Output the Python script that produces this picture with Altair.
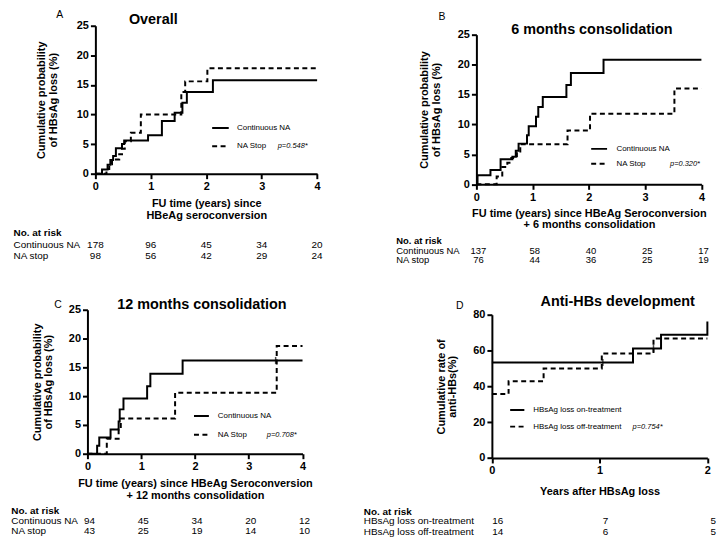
import altair as alt
import pandas as pd

FONT = "Liberation Sans"

# ---------------- data ----------------
# Panel A: Overall
a_cont_t = [0, 0.12, 0.22, 0.27, 0.32, 0.37, 0.48, 0.52, 0.95, 1.20, 1.43, 1.57, 1.65, 2.12, 4.0]
a_cont_v = [0, 0.7, 1.5, 2.3, 3.0, 4.3, 5.0, 5.6, 6.5, 8.9, 10.3, 12.0, 13.8, 15.8, 15.8]
a_stop_t = [0, 0.20, 0.25, 0.30, 0.43, 0.48, 0.53, 0.64, 0.82, 1.55, 1.62, 2.02, 4.0]
a_stop_v = [0, 0.8, 1.6, 2.4, 3.3, 4.2, 5.5, 6.9, 10.0, 13.8, 15.6, 17.8, 17.8]
a_risk_cont = [178, 96, 45, 34, 20]
a_risk_stop = [98, 56, 42, 29, 24]

# Panel B: 6 months consolidation
b_cont_t = [0, 0.02, 0.25, 0.43, 0.64, 0.70, 0.75, 0.90, 0.93, 1.06, 1.10, 1.18, 1.60, 1.68, 2.26, 4.0]
b_cont_v = [0, 1.5, 2.4, 4.2, 4.6, 5.6, 6.8, 8.2, 9.7, 11.3, 12.9, 14.6, 16.6, 18.6, 20.8, 20.8]
b_stop_t = [0, 0.36, 0.46, 0.55, 0.62, 0.72, 0.78, 1.62, 2.02, 3.52, 4.0]
b_stop_v = [0, 1.3, 2.9, 3.6, 4.4, 5.5, 6.7, 9.0, 11.8, 16.0, 16.0]
b_risk_cont = [137, 58, 40, 25, 17]
b_risk_stop = [76, 44, 36, 25, 19]

# Panel C: 12 months consolidation
c_cont_t = [0, 0.18, 0.22, 0.43, 0.58, 0.60, 0.67, 1.11, 1.17, 1.77, 4.0]
c_cont_v = [0, 1.4, 2.8, 4.2, 5.6, 7.7, 9.6, 11.7, 13.9, 16.2, 16.2]
c_stop_t = [0, 0.36, 0.58, 0.62, 1.63, 3.52, 4.0]
c_stop_v = [0, 2.6, 4.2, 6.1, 10.6, 18.7, 18.7]
c_cens_t = [3.5]
c_cens_v = [16.2]
c_risk_cont = [94, 45, 34, 20, 12]
c_risk_stop = [43, 25, 19, 14, 10]

# Panel D: Anti-HBs development
d_on_t = [0, 1.31, 1.57, 2.0]
d_on_v = [53.3, 61.1, 68.8, 76.2]
d_off_t = [0, 0.155, 0.48, 1.02, 1.50, 2.0]
d_off_v = [35.7, 42.9, 50.0, 58.3, 66.7, 66.7]
d_cens_t = [1.03, 1.50]
d_cens_v = [53.3, 61.1]
d_risk_on = [16, 7, 5]
d_risk_off = [14, 6, 5]

years4 = [0, 1, 2, 3, 4]
years2 = [0, 1, 2]


# ---------------- helpers ----------------
def txt(s, x, y, size=10, weight="normal", style="normal", align="left"):
    return alt.Chart(pd.DataFrame({"s": [s]})).mark_text(
        font=FONT, fontSize=size, fontWeight=weight, fontStyle=style,
        align=align, baseline="middle", color="black"
    ).encode(text="s:N", x=alt.value(x), y=alt.value(y))


def sample(x1, x2, y, dash):
    return alt.Chart(pd.DataFrame({"k": [0]})).mark_rule(
        color="black", strokeWidth=2, strokeDash=dash
    ).encode(x=alt.value(x1), x2=alt.value(x2), y=alt.value(y))


def panel(c):
    xs = alt.Scale(domain=c["xdom"], range=c["xrange"], nice=False, zero=False)
    ys = alt.Scale(domain=c["ydom"], range=c["yrange"], nice=False)
    xa = alt.Axis(title=c["xtitle"], values=[float(v) for v in c["xticks"]],
                  labelExpr="format(datum.value, '.0f')",
                  titlePadding=c["xtp"], offset=c.get("xoff", 0),
                  labelOverlap=False, labelBound=False, tickCount=20)
    ya = alt.Axis(title=c["ytitle"], values=c["yticks"], format="d",
                  offset=c.get("yoff", 0), titlePadding=c["ytp"],
                  labelOverlap=False, tickCount=20)
    df = pd.DataFrame({
        "t": c["t1"] + c["t2"],
        "v": c["v1"] + c["v2"],
        "g": [c["n1"]] * len(c["t1"]) + [c["n2"]] * len(c["t2"]),
    })
    layers = [alt.Chart(df).mark_line(
        interpolate="step-after", color="black", strokeWidth=2
    ).encode(
        x=alt.X("t:Q", scale=xs, axis=xa),
        y=alt.Y("v:Q", scale=ys, axis=ya),
        strokeDash=alt.StrokeDash("g:N", scale=alt.Scale(
            domain=[c["n1"], c["n2"]], range=[[1, 0], [5, 3.5]]), legend=None),
    )]
    if c.get("ct"):
        cdf = pd.DataFrame({"t": c["ct"], "v": c["cv"]})
        layers.append(alt.Chart(cdf).mark_tick(
            orient="vertical", color="black", thickness=1.5, size=7
        ).encode(x=alt.X("t:Q", scale=xs, axis=xa),
                 y=alt.Y("v:Q", scale=ys, axis=ya)))
    # letter and title
    layers.append(txt(c["letter"], c["lxy"][0], c["lxy"][1], size=10.5, align="center"))
    layers.append(txt(c["title"], c["txy"][0], c["txy"][1], size=14.5,
                      weight="bold", align="center"))
    # legend
    lg = c["leg"]
    layers.append(sample(lg["x1"], lg["x2"], lg["y1"], [1, 0]))
    layers.append(sample(lg["x1"], lg["x2"], lg["y2"], [5, 3.5]))
    layers.append(txt(c["n1"], lg["tx"], lg["y1"], size=8))
    layers.append(txt(c["n2"], lg["tx"], lg["y2"], size=8))
    layers.append(txt(c["p"], lg["px"], lg["y2"], size=7.5, style="italic"))
    # risk table
    rk = c["risk"]
    fs = rk.get("fs", 10)
    layers.append(txt("No. at risk", rk["x"], rk["y"][0], size=fs, weight="bold"))
    layers.append(txt(rk["l1"], rk["x"], rk["y"][1], size=fs))
    layers.append(txt(rk["l2"], rk["x"], rk["y"][2], size=fs))
    for vals, yy in ((rk["r1"], rk["y"][1]), (rk["r2"], rk["y"][2])):
        rdf = pd.DataFrame({"t": c["xticks"], "n": vals})
        layers.append(alt.Chart(rdf).mark_text(
            font=FONT, fontSize=fs, align="center", baseline="middle",
            color="black", dx=rk.get("dx", 0)
        ).encode(x=alt.X("t:Q", scale=xs, axis=xa), y=alt.value(yy), text="n:Q"))
    return alt.layer(*layers).properties(width=c["w"], height=c["h"])


ytitle_km = ["Cumulative probability", "of HBsAg loss (%)"]

pa = panel(dict(
    t1=a_cont_t, v1=a_cont_v, t2=a_stop_t, v2=a_stop_v,
    n1="Continuous NA", n2="NA Stop", p="p=0.548*",
    xdom=[0, 4], xrange=[8, 231.3], ydom=[0, 25], yrange=[149, 0],
    xticks=years4, yticks=[0, 5, 10, 15, 20, 25],
    xtitle=["FU time (years) since", "HBeAg seroconversion"], xtp=6,
    ytitle=ytitle_km, ytp=18, yoff=-8, w=231.3, h=149,
    letter="A", lxy=(-28, -11), title="Overall", txy=(66.3, -5.3),
    leg=dict(x1=125.6, x2=142.3, y1=103, y2=121.4, tx=150.6, px=191.6),
    risk=dict(x=-74.4, y=[208.7, 220.7, 232.4], l1="Continuous NA", l2="NA stop",
              r1=a_risk_cont, r2=a_risk_stop),
))

pb = panel(dict(
    t1=b_cont_t, v1=b_cont_v, t2=b_stop_t, v2=b_stop_v,
    n1="Continuous NA", n2="NA Stop", p="p=0.320*",
    xdom=[0, 4], xrange=[0, 226.6], ydom=[0, 25], yrange=[159.7, 9],
    xticks=years4, yticks=[0, 5, 10, 15, 20, 25],
    xtitle=["FU time (years) since HBeAg Seroconversion", "+ 6 months consolidation"], xtp=5,
    ytitle=ytitle_km, ytp=16, w=226.6, h=159.7,
    letter="B", lxy=(-34.7, -8.6), title="6 months consolidation", txy=(116.3, 4),
    leg=dict(x1=115.6, x2=131.6, y1=124, y2=139, tx=141, px=195),
    risk=dict(x=-80.7, y=[216.7, 226.5, 236], l1="Continuous NA", l2="NA stop",
              r1=b_risk_cont, r2=b_risk_stop, dx=2, fs=9.5),
))

pc = panel(dict(
    t1=c_cont_t, v1=c_cont_v, t2=c_stop_t, v2=c_stop_v, ct=c_cens_t, cv=c_cens_v,
    n1="Continuous NA", n2="NA Stop", p="p=0.708*",
    xdom=[0, 4], xrange=[0, 216.6], ydom=[0, 25], yrange=[145, 0],
    xticks=years4, yticks=[0, 5, 10, 15, 20, 25],
    xtitle=["FU time (years) since HBeAg Seroconversion", "+ 12 months consolidation"], xtp=6,
    ytitle=ytitle_km, ytp=14.5, w=216.6, h=145,
    letter="C", lxy=(-29.7, -5), title="12 months consolidation", txy=(115.3, -5),
    leg=dict(x1=107.3, x2=122.3, y1=107, y2=126, tx=131.3, px=180.6),
    risk=dict(x=-76.7, y=[202.3, 212.7, 223.3], l1="Continuous NA", l2="NA stop",
              r1=c_risk_cont, r2=c_risk_stop, dx=2),
))

pd_ = panel(dict(
    t1=d_on_t, v1=d_on_v, t2=d_off_t, v2=d_off_v, ct=d_cens_t, cv=d_cens_v,
    n1="HBsAg loss on-treatment", n2="HBsAg loss off-treatment", p="p=0.754*",
    xdom=[0, 2], xrange=[15.6, 232.6], ydom=[0, 80], yrange=[149.3, 5],
    xticks=years2, yticks=[0, 20, 40, 60, 80],
    xtitle="Years after HBsAg loss", xtp=10,
    ytitle=["Cumulative rate of", "anti-HBs(%)"], ytp=15, yoff=-15.6, w=232.6, h=149.3,
    letter="D", lxy=(-16.7, -3.3), title="Anti-HBs development", txy=(142.3, -7.7),
    leg=dict(x1=34, x2=48.3, y1=101, y2=117.7, tx=57.3, px=157.3),
    risk=dict(x=-113.4, y=[203.3, 213, 224], l1="HBsAg loss on-treatment",
              l2="HBsAg loss off-treatment", r1=d_risk_on, r2=d_risk_off, dx=6),
))

chart = alt.concat(
    pa, pb, pc, pd_, columns=2,
    spacing={"row": 126, "column": 159.7},
    bounds="flush",
    padding={"left": 3, "top": 0, "right": 0, "bottom": 0},
).configure_view(stroke=None).configure_axis(
    grid=False,
    domainColor="black", domainWidth=2,
    tickColor="black", tickWidth=2, tickSize=5,
    labelFont=FONT, labelFontSize=11, labelFontWeight="bold", labelColor="black",
    labelPadding=2, labelFlush=False,
    titleFont=FONT, titleFontSize=11, titleFontWeight="bold", titleColor="black",
    titleLineHeight=11.7,
)

chart.save("out.html", embed_options={"renderer": "svg", "actions": False})
